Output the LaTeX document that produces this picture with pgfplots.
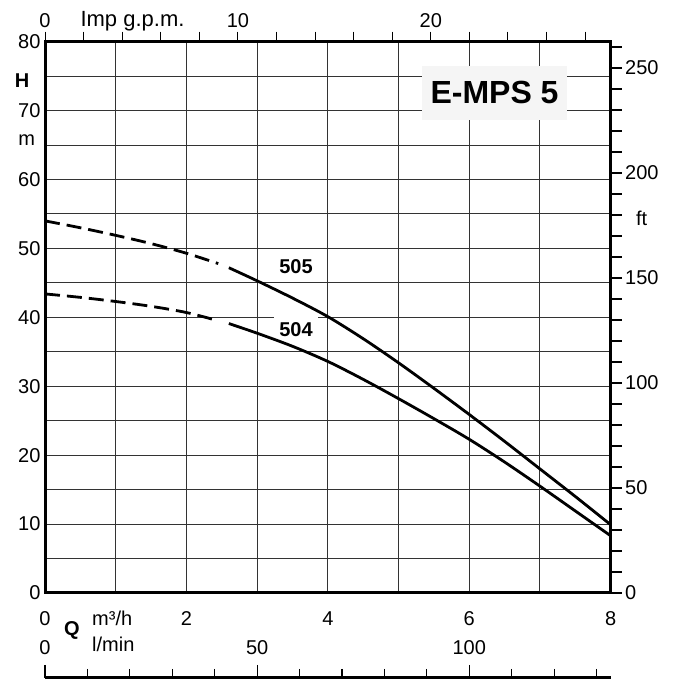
\documentclass[border=0pt]{standalone}
\usepackage{fontspec}
\setmainfont{Liberation Sans}
\usepackage{pgfplots}
\pgfplotsset{compat=1.18}

% 1 px of the reference = 1 pt here; axis box from (45,87) to (610.7,638.3)
\newcommand{\lbl}{\fontsize{20}{22}\selectfont}

\pgfplotsset{
  pumpbase/.style={
    scale only axis,
    width=565.7pt, height=551.3pt,
    at={(45pt,87pt)},
    /pgf/number format/assume math mode=true,
    tick label style={font=\lbl},
  },
}

\begin{document}
\begin{tikzpicture}
\useasboundingbox (0,0) rectangle (680pt,680pt);

% main axis: Q [m3/h] vs H [m]
\begin{axis}[
  pumpbase,
  xmin=0, xmax=8, ymin=0, ymax=80,
  xtick={0,1,...,8},
  xticklabels={0,,2,,4,,6,,8},
  ytick={0,5,...,80},
  yticklabels={0,,10,,20,,30,,40,,50,,60,,70,,80},
  major tick length=0pt,
  grid=major,
  major grid style={black!80, line width=1pt},
  axis line style={line width=3pt},
  xticklabel style={yshift=-15pt},
  yticklabel style={xshift=-1pt},
  clip=false,
]
  % label box first, so that the curves pass over it
  \node[font=\fontsize{20}{22}\selectfont\bfseries, fill=white, inner xsep=5pt, inner ysep=7pt]
    at (axis cs:3.55,38.2) {504};
  \node[font=\fontsize{20}{22}\selectfont\bfseries] at (axis cs:3.55,47.3) {505};

  % 505
  \addplot[black, line width=2.8pt, dash pattern=on 15pt off 7pt, smooth]
    coordinates {(0,54.0) (0.5,53.0) (1,51.9) (1.5,50.7) (2,49.3) (2.45,47.8)};
  \addplot[black, line width=2.8pt, smooth]
    coordinates {(2.6,47.2) (3,45.3) (3.5,42.8) (4,40.1) (4.5,36.9) (5,33.4)
                 (5.5,29.7) (6,25.9) (6.5,22.0) (7,18.0) (7.5,14.0) (8,9.9)};
  % 504
  \addplot[black, line width=2.8pt, dash pattern=on 15pt off 7pt, smooth]
    coordinates {(0,43.4) (0.5,42.9) (1,42.3) (1.5,41.6) (2,40.7) (2.45,39.5)};
  \addplot[black, line width=2.8pt, smooth]
    coordinates {(2.6,39.1) (3,37.7) (3.5,35.8) (4,33.6) (4.5,31.0) (5,28.2)
                 (5.5,25.3) (6,22.3) (6.5,19.0) (7,15.5) (7.5,11.9) (8,8.3)};

  \node[fill=black!4, minimum width=145pt, minimum height=54pt, inner sep=0pt,
        font=\fontsize{32}{34}\selectfont\bfseries]
    at (axis cs:6.357,72.56) {E-MPS 5};

  \node[font=\lbl\bfseries] at (axis cs:-0.325,74.4) {H};
  \node[font=\lbl] at (axis cs:-0.26,65.7) {m};
  \node[font=\lbl, anchor=west] at (axis cs:0.618,-3.7) {m³/h};
  \node[font=\lbl\bfseries] at (axis cs:0.38,-5.4) {Q};
\end{axis}

% top axis: Imp g.p.m.
\begin{axis}[
  pumpbase,
  xmin=0, xmax=29.329, ymin=0, ymax=1,
  axis x line*=top, axis y line=none,
  xtick={0,2,...,28},
  xticklabels={0,,,,,10,,,,,20,,,,},
  xtick align=outside,
  major tick length=10pt,
  major tick style={line width=1pt, black},
  axis line style={line width=3pt},
  clip=false,
]
  \node[font=\fontsize{22}{24}\selectfont, anchor=west] at (axis cs:1.66,1.038) {Imp g.p.m.};
\end{axis}

% right axis: ft
\begin{axis}[
  pumpbase,
  xmin=0, xmax=1, ymin=0, ymax=262.47,
  axis y line*=right, axis x line=none,
  ytick={0,10,...,260},
  yticklabels={0,,,,,50,,,,,100,,,,,150,,,,,200,,,,,250,},
  ytick align=outside,
  major tick length=11pt,
  major tick style={line width=1.3pt, black},
  axis line style={line width=3pt},
  clip=false,
]
  \node[font=\lbl] at (axis cs:1.0546,178.6) {ft};
\end{axis}

% bottom axis: l/min
\begin{axis}[
  scale only axis,
  width=565.7pt, height=10pt,
  at={(45pt,-8pt)},
  /pgf/number format/assume math mode=true,
  tick label style={font=\lbl},
  xmin=0, xmax=133.33, ymin=0, ymax=1,
  axis x line*=top, axis y line=none,
  xtick={0,50,100},
  minor xtick={10,20,30,40,60,70,80,90,110,120,130},
  xtick align=outside,
  major tick length=13pt,
  minor tick length=9pt,
  every tick/.style={line width=1.2pt, black},
  axis line style={line width=3pt},
  xticklabel style={yshift=7pt},
  clip=false,
]
  \node[font=\lbl, anchor=west] at (axis cs:10.3,4.4) {l/min};
\end{axis}
\end{tikzpicture}
\end{document}
